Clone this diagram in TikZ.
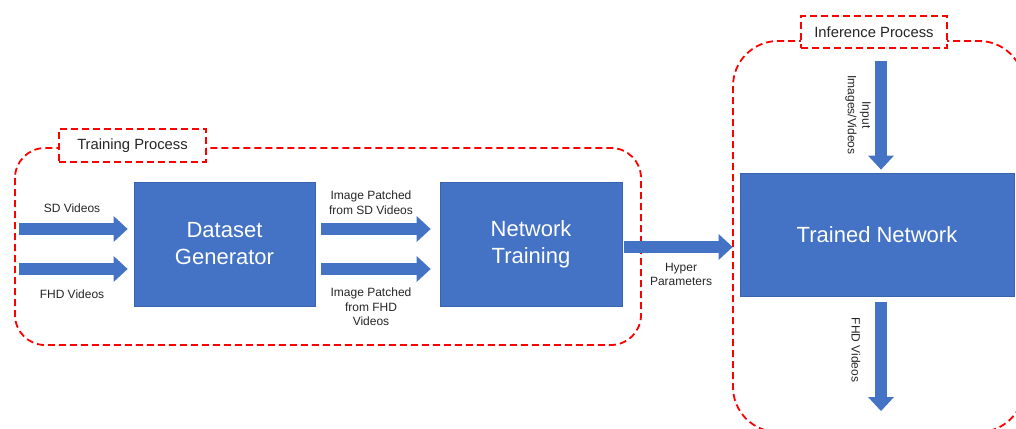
\documentclass[tikz,border=0pt]{standalone}
\usepackage{fontspec}
\setmainfont{Liberation Sans}
\usetikzlibrary{arrows.meta}
\definecolor{boxblue}{HTML}{4472C4}
\definecolor{boxedge}{HTML}{3A63AD}
\definecolor{regionred}{HTML}{FF0000}
\definecolor{labelgray}{HTML}{262626}
\begin{document}
\begin{tikzpicture}[x=1pt,y=-1pt,
  procbox/.style={draw=boxedge, line width=0.8pt, fill=boxblue, text=white,
    align=center, inner sep=0pt, font=\fontsize{22}{27}\selectfont},
  region/.style={draw=regionred, line width=1.8pt, dash pattern=on 7pt off 4pt,
    rounded corners=30pt},
  regiontag/.style={draw=regionred, fill=white, line width=1.8pt,
    dash pattern=on 7pt off 4pt, inner sep=0pt, text=labelgray,
    font=\fontsize{14.8}{17}\selectfont},
  flowlabel/.style={font=\fontsize{12}{14.5}\selectfont, text=labelgray,
    align=center, inner sep=0pt},
  blockarrow/.style={draw=boxblue, line width=12pt,
    -{Triangle[length=14pt, width=26pt, line width=0pt]}}
]
\useasboundingbox (0,0) rectangle (1016,428);
\clip (0,0) rectangle (1016,428);

% process regions
\draw[region] (15,148) rectangle (641,345);
\draw[region, rounded corners=45pt] (733,41) rectangle (1024,432);
\node[regiontag, minimum width=147pt, minimum height=33pt] (traintag) at (132.5,145.5) {Training Process};
\node[regiontag, minimum width=146pt, minimum height=32pt] (infertag) at (874,32) {Inference Process};

% processing blocks
\node[procbox, minimum width=181pt, minimum height=124pt] (dg) at (224.5,244) {Dataset\\Generator};
\node[procbox, minimum width=182pt, minimum height=124pt] (nt) at (531,244) {Network\\Training};
\node[procbox, minimum width=274pt, minimum height=123pt] (tn) at (877,234.5) {Trained Network};

% inputs to the dataset generator
\coordinate (sdsrc) at (19,229);
\coordinate (fhdsrc) at (19,269);
\draw[blockarrow, shorten >=6pt] (sdsrc) -- (sdsrc -| dg.west);
\draw[blockarrow, shorten >=6pt] (fhdsrc) -- (fhdsrc -| dg.west);
\node[flowlabel] (sdlab) at (72,208) {SD Videos};
\node[flowlabel] (fhdlab) at (72,294) {FHD Videos};

% patches to training
\draw[blockarrow, shorten <=6pt, shorten >=9pt] ([yshift=15pt]dg.east) -- ([yshift=15pt]nt.west);
\draw[blockarrow, shorten <=6pt, shorten >=9pt] ([yshift=-25pt]dg.east) -- ([yshift=-25pt]nt.west);
\node[flowlabel] (sdpatch) at (371,202.5) {Image Patched\\from SD Videos};
\node[flowlabel] (fhdpatch) at (371,307) {Image Patched\\from FHD\\Videos};

% hyper parameters to the trained network
\coordinate (hp) at ([yshift=-3pt]nt.east);
\draw[blockarrow, shorten <=2pt, shorten >=7pt] (hp) -- (hp -| tn.west);
\node[flowlabel] (hplab) at (681,274.5) {Hyper\\Parameters};

% inference input and output
\coordinate (insrc) at (881,61);
\coordinate (outdst) at (881,411);
\draw[blockarrow, shorten >=3pt] (insrc) -- (insrc |- tn.north);
\draw[blockarrow, shorten <=6pt] (outdst |- tn.south) -- (outdst);
\node[flowlabel, rotate=-90] (inlab) at (858,115) {Input\\Images/Videos};
\node[flowlabel, rotate=-90] (outlab) at (856,350) {FHD Videos};
\end{tikzpicture}
\end{document}
